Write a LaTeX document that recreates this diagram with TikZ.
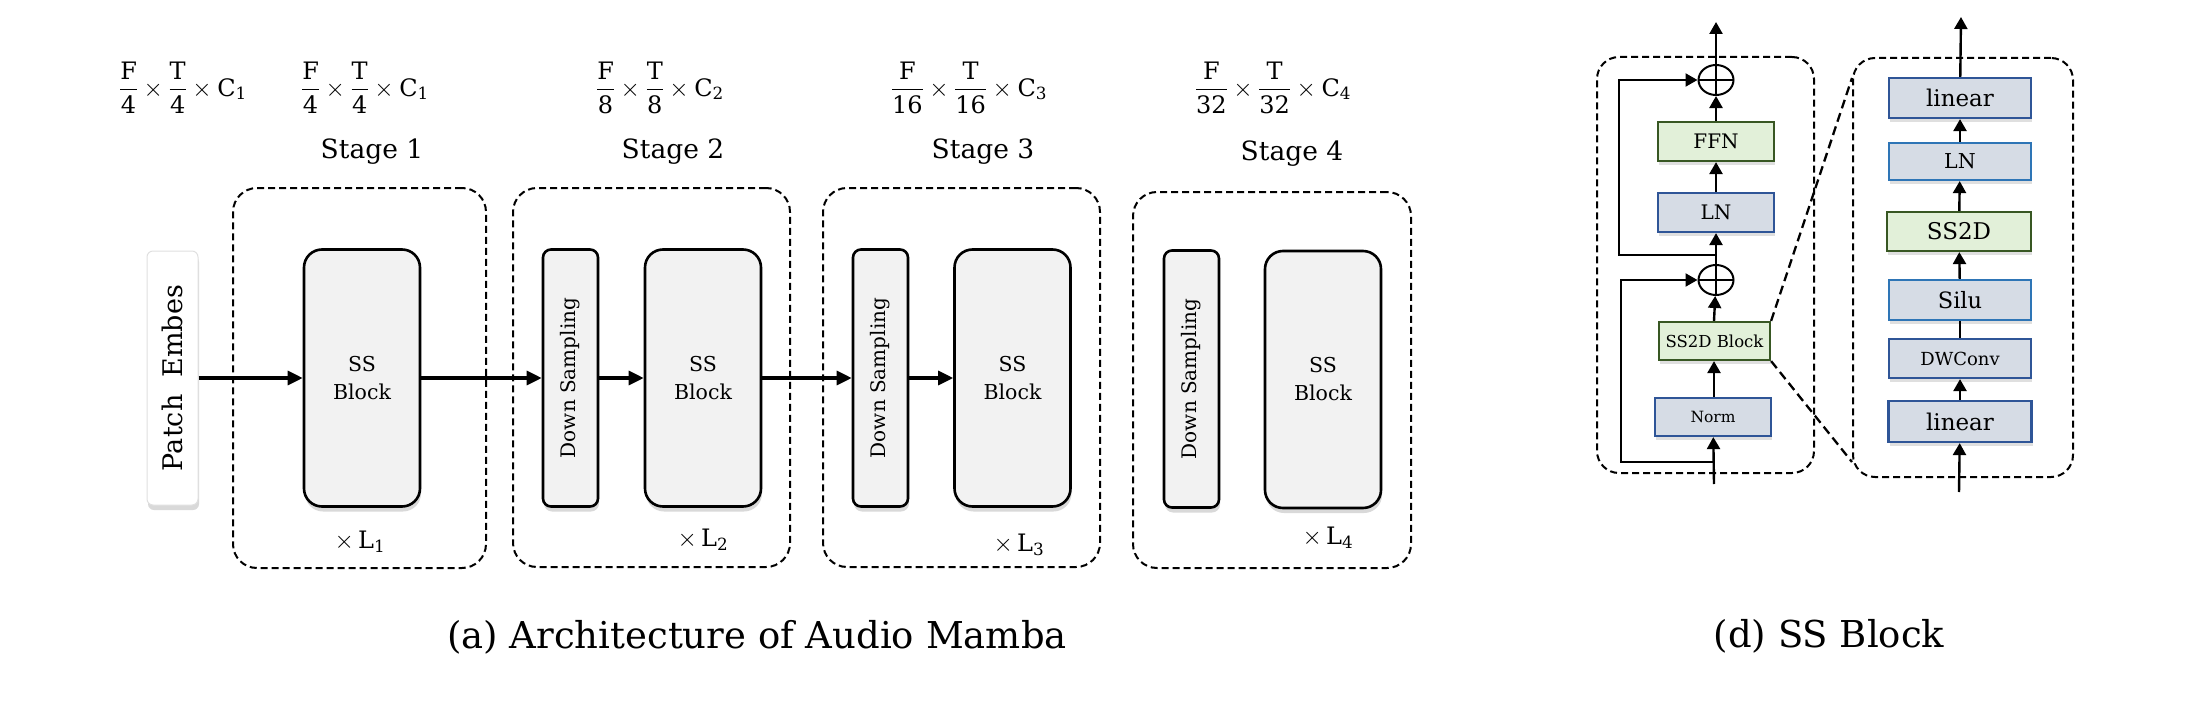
\documentclass[tikz,border=0pt]{standalone}
\usepackage{amsmath}
\usepackage{graphicx}
\usepackage{fontspec}
\setmainfont{DejaVu Serif}
\usepackage{xcolor}
\usetikzlibrary{arrows.meta,positioning,shadows,shapes.geometric}

\definecolor{blockgray}{RGB}{242,242,242}
\definecolor{lnfill}{RGB}{214,220,229}
\definecolor{lndark}{RGB}{47,85,151}
\definecolor{lnlight}{RGB}{46,117,182}
\definecolor{ffnfill}{RGB}{226,240,217}
\definecolor{ffndraw}{RGB}{56,87,35}

\newcommand{\dimfrac}[3]{$\dfrac{\mathrm{F}}{\mathrm{#1}}\times\dfrac{\mathrm{T}}{\mathrm{#1}}\times\mathrm{C}_{\mathrm{#2}}$#3}

\begin{document}
\begin{tikzpicture}[
    x = 1pt, y = -1pt, % pixel grid, y downwards
    stagebox/.style={
        draw, line width = 2pt, %border
        dash pattern = on 7pt off 4pt,
        rounded corners = 24pt,
        inner sep = 0pt
      },
    ssblock/.style={
        draw, line width = 2.6pt,
        fill = blockgray,
        rounded corners = 18pt,
        minimum width = 116pt, minimum height = 257pt,
        align = center, inner sep = 0pt,
        drop shadow = {shadow xshift = 1pt, shadow yshift = -5pt, opacity = .3},
        font = \fontsize{20.5}{28}\selectfont
      },
    dsblock/.style={
        ssblock, rounded corners = 8pt,
        minimum width = 55pt,
        font = \fontsize{20}{24}\selectfont
      },
    stagetext/.style={font = \fontsize{26.5}{30}\selectfont},
    dimtext/.style={anchor = base, font = \fontsize{24}{28}\selectfont},
    captext/.style={font = \fontsize{37}{42}\selectfont},
    flow/.style={-{Triangle[length = 15pt, width = 14pt]}, line width = 3.2pt},
    % SS block detail
    bluebox/.style={
        draw = lndark, line width = 2.2pt,
        fill = lnfill,
        minimum width = 116pt, minimum height = 39pt, inner sep = 0pt,
        drop shadow = {shadow xshift = 1pt, shadow yshift = -4pt, opacity = .25},
        font = \fontsize{20}{24}\selectfont
      },
    greenbox/.style={bluebox, draw = ffndraw, fill = ffnfill},
    oplus/.style={
        ellipse, draw, line width = 2pt,
        minimum width = 35pt, minimum height = 30pt, inner sep = 0pt,
        path picture = {
          \draw[line width = 2pt] (path picture bounding box.north) -- (path picture bounding box.south)
            (path picture bounding box.west) -- (path picture bounding box.east);}
      },
    smallflow/.style={-{Triangle[length = 12pt, width = 13pt]}, line width = 2.4pt},
    skip/.style={smallflow, line width = 2pt},
    zoomline/.style={line width = 2.3pt, dash pattern = on 9pt off 5pt}
  ]
  \useasboundingbox (0,0) rectangle (2206,709);

  % (a) Architecture
  \node [dimtext] (dim0) at (183,96) {\dimfrac{4}{1}{}};
  \node [dimtext] (dim1) at (365,96) {\dimfrac{4}{1}{}};
  \node [dimtext] (dim2) at (660,96) {\dimfrac{8}{2}{}};
  \node [dimtext] (dim3) at (969,96) {\dimfrac{16}{3}{}};
  \node [dimtext] (dim4) at (1273,96) {\dimfrac{32}{4}{}};

  \node [stagetext] (lab1) at (372,152) {Stage 1};
  \node [stagetext] (lab2) at (673,152) {Stage 2};
  \node [stagetext] (lab3) at (983,152) {Stage 3};
  \node [stagetext] (lab4) at (1292,154) {Stage 4};

  \node [stagebox, minimum width = 253pt, minimum height = 380pt] (stage1) at (359.5,378) {};
  \node [stagebox, minimum width = 277pt, minimum height = 379pt] (stage2) at (651.5,377.5) {};
  \node [stagebox, minimum width = 277pt, minimum height = 379pt] (stage3) at (961.5,377.5) {};
  \node [stagebox, minimum width = 278pt, minimum height = 376pt] (stage4) at (1272,380) {};

  \node [ssblock, draw = black!12, line width = 1pt, fill = white, rounded corners = 6pt, minimum width = 51pt, minimum height = 254pt,
         font = \fontsize{27}{30}\selectfont] (patch) at (172.5,378) {\rotatebox{90}{Patch\ \ Embes}};

  \node [ssblock] (ss1) at (362,378) {SS\\Block};
  \node [dsblock] (ds2) at (570.5,378) {\rotatebox{90}{Down Sampling}};
  \node [ssblock] (ss2) at (703,378) {SS\\Block};
  \node [dsblock] (ds3) at (880.5,378) {\rotatebox{90}{Down Sampling}};
  \node [ssblock] (ss3) at (1012.5,378) {SS\\Block};
  \node [dsblock] (ds4) at (1191.5,379) {\rotatebox{90}{Down Sampling}};
  \node [ssblock] (ss4) at (1323,379.5) {SS\\Block};

  \draw [flow] (patch) -- (ss1);
  \draw [flow] (ss1) -- (ds2);
  \draw [flow] (ds2) -- (ss2);
  \draw [flow] (ss2) -- (ds3);
  \draw [flow] (ds3) -- (ss3);

  \node [dimtext, anchor = center] (rep1) at (360,542) {$\times\,\mathrm{L}_{\mathrm{1}}$};
  \node [dimtext, anchor = center] (rep2) at (703,540) {$\times\,\mathrm{L}_{\mathrm{2}}$};
  \node [dimtext, anchor = center] (rep3) at (1019,545) {$\times\,\mathrm{L}_{\mathrm{3}}$};
  \node [dimtext, anchor = center] (rep4) at (1328,538) {$\times\,\mathrm{L}_{\mathrm{4}}$};

  \node [captext] (capa) at (757,637) {(a) Architecture of Audio Mamba};

  % (d) SS Block
  \node [stagebox, minimum width = 217pt, minimum height = 416pt, rounded corners = 22pt] (outer) at (1705.5,265) {};
  \node [stagebox, minimum width = 220pt, minimum height = 419pt, rounded corners = 22pt] (inner) at (1963,267.5) {};

  \node [oplus] (add1) at (1716,80) {};
  \node [greenbox] (ffn) at (1716,141.5) {FFN};
  \node [bluebox] (ln1) at (1716,212.5) {LN};
  \node [oplus] (add2) at (1716,280) {};
  \node [greenbox, minimum width = 111pt, minimum height = 38pt, font = \fontsize{16.5}{20}\selectfont] (ssd) at (1714.5,341) {SS2D Block};
  \node [bluebox, minimum height = 38pt, font = \fontsize{15.5}{20}\selectfont] (norm) at (1713,417) {Norm};
  \coordinate (in1) at (1714,484);
  \coordinate (out1) at (1716,22);
  \coordinate (fork1) at (1714,462);
  \coordinate (fork2) at (1716,255);

  \draw [smallflow] (in1) -- (norm);
  \draw [smallflow] (norm.north -| in1) -- (ssd.south -| in1);
  \draw [smallflow] (ssd.north -| in1) -- (add2);
  \draw [smallflow] (add2) -- (ln1);
  \draw [smallflow] (ln1) -- (ffn);
  \draw [smallflow] (ffn) -- (add1);
  \draw [smallflow] (add1) -- (out1);
  \draw [skip] (fork1) -- ++(-93,0) |- (add2);
  \draw [skip] (fork2) -- ++(-97,0) |- (add1);

  \node [bluebox, minimum width = 142pt, minimum height = 40pt, font = \fontsize{23}{26}\selectfont] (lin2) at (1960,98) {linear};
  \node [bluebox, draw = lnlight, minimum width = 142pt, minimum height = 37pt, font = \fontsize{20.5}{24}\selectfont] (ln2) at (1960,161.5) {LN};
  \node [greenbox, minimum width = 144pt, minimum height = 39pt, font = \fontsize{23}{26}\selectfont] (ss2d) at (1959,231.5) {SS2D};
  \node [bluebox, draw = lnlight, minimum width = 142pt, minimum height = 40pt, font = \fontsize{22.5}{26}\selectfont] (silu) at (1960,300) {Silu};
  \node [bluebox, minimum width = 142pt, minimum height = 39pt, font = \fontsize{18}{22}\selectfont] (dwconv) at (1960,358.5) {DWConv};
  \node [bluebox, minimum width = 143pt, minimum height = 41pt, font = \fontsize{23}{26}\selectfont] (lin1) at (1960,421.5) {linear};
  \coordinate (in2) at (1959,492);
  \coordinate (out2) at (1961,17);

  \draw [smallflow] (in2) -- (lin1);
  \draw [smallflow] (lin1) -- (dwconv);
  \draw [line width = 2.4pt] (dwconv) -- (silu);
  \draw [smallflow] (silu) -- (ss2d);
  \draw [smallflow] (ss2d) -- (ln2);
  \draw [smallflow] (ln2) -- (lin2);
  \draw [smallflow] (lin2) -- (out2);

  \coordinate (zoomtop) at (inner.west |- 0,78);
  \coordinate (zoombot) at (inner.west |- 0,462);
  \draw [zoomline] (ssd.north east) -- (zoomtop);
  \draw [zoomline] (ssd.south east) -- (zoombot);

  \node [captext] (capd) at (1829,636) {(d) SS Block};
\end{tikzpicture}
\end{document}
